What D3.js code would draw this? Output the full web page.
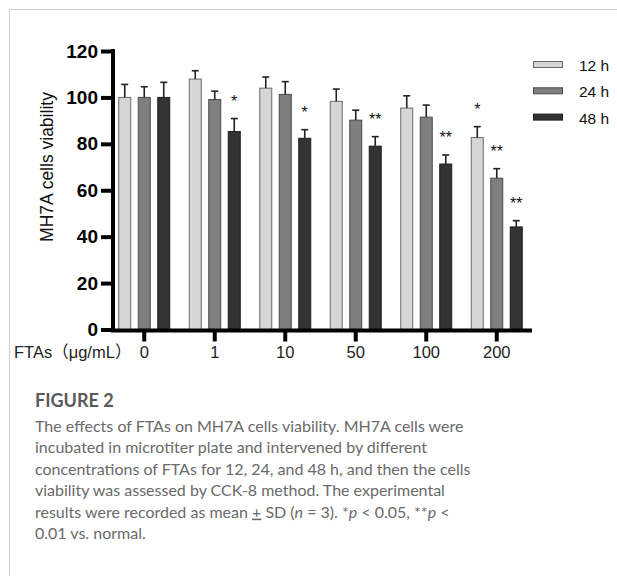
<!DOCTYPE html>
<html>
<head>
<meta charset="utf-8">
<script src="https://cdn.jsdelivr.net/npm/d3@7"></script>
<style>
  html, body { margin: 0; padding: 0; background: #fff; }
  svg { display: block; }
</style>
</head>
<body>
<svg id="chart" width="617" height="576"></svg>
<script>
// chart data
const doses = ["0", "1", "10", "50", "100", "200"];
const times = ["12 h", "24 h", "48 h"];
const mean12 = [100, 107.9, 104, 98.3, 95.4, 82.7];
const mean24 = [100, 99.1, 101.3, 90.2, 91.5, 65.2];
const mean48 = [100, 85.3, 82.4, 79.0, 71.3, 44.2];
const sd12 = [5.6, 3.6, 4.8, 5.3, 5.3, 4.7];
const sd24 = [4.6, 3.6, 5.5, 4.3, 5.2, 4.1];
const sd48 = [6.5, 5.6, 3.7, 4.1, 3.9, 2.7];
const sig12 = ["", "", "", "", "", "*"];
const sig24 = ["", "", "", "", "", "**"];
const sig48 = ["", "*", "*", "**", "**", "**"];
const yTicks = [0, 20, 40, 60, 80, 100, 120];
const captionLines = [
  "The effects of FTAs on MH7A cells viability. MH7A cells were",
  "incubated in microtiter plate and intervened by different",
  "concentrations of FTAs for 12, 24, and 48 h, and then the cells",
  "viability was assessed by CCK-8 method. The experimental"
];

const means = [mean12, mean24, mean48];
const sds = [sd12, sd24, sd48];
const sigs = [sig12, sig24, sig48];

const rows = [];
doses.forEach((d, i) => {
  times.forEach((t, j) => {
    rows.push({ dose: d, time: t, mean: means[j][i], sd: sds[j][i], sig: sigs[j][i] });
  });
});

const svg = d3.select("#chart");

// page frame
svg.append("line").attr("x1", 9.5).attr("x2", 9.5).attr("y1", 9.5).attr("y2", 576)
  .attr("stroke", "#d0d0d0").attr("stroke-width", 1);
svg.append("line").attr("x1", 9.5).attr("x2", 617).attr("y1", 9.5).attr("y2", 9.5)
  .attr("stroke", "#d0d0d0").attr("stroke-width", 1);

const x0 = d3.scaleBand().domain(doses).range([109, 532]).padding(0);
const x1 = d3.scaleBand().domain(times).range([-26, 26]).paddingInner(0.333);
const y = d3.scaleLinear().domain([0, 120]).range([329.5, 51]);

const fill = d3.scaleOrdinal().domain(times).range(["#d6d6d6", "#7f7f7f", "#333333"]);
const edge = d3.scaleOrdinal().domain(times).range(["#6a6a6a", "#4a4a4a", "#1e1e1e"]);

const g = svg.append("g");

// bars
const groups = g.selectAll("g.grp")
  .data(rows)
  .join("g")
  .attr("class", "grp")
  .attr("transform", d => `translate(${x0(d.dose) + x0.bandwidth() / 2 + x1(d.time)},0)`);

groups.append("rect")
  .attr("x", 0.5)
  .attr("width", x1.bandwidth() - 1)
  .attr("y", d => y(d.mean))
  .attr("height", d => y(0) - y(d.mean))
  .attr("fill", d => fill(d.time))
  .attr("stroke", d => edge(d.time))
  .attr("stroke-width", 1);

// error bars (upper only)
const cx = x1.bandwidth() / 2;
groups.append("line")
  .attr("x1", cx).attr("x2", cx)
  .attr("y1", d => y(d.mean))
  .attr("y2", d => y(d.mean + d.sd))
  .attr("stroke", "#222").attr("stroke-width", 1.6);
groups.append("line")
  .attr("x1", cx - 3.5).attr("x2", cx + 3.5)
  .attr("y1", d => y(d.mean + d.sd))
  .attr("y2", d => y(d.mean + d.sd))
  .attr("stroke", "#222").attr("stroke-width", 1.6);

// significance marks
groups.filter(d => d.sig)
  .append("text")
  .attr("x", cx)
  .attr("y", d => y(d.mean + d.sd) - 11.5)
  .attr("text-anchor", "middle")
  .attr("font-family", "Liberation Sans, Arial, sans-serif")
  .attr("font-size", 16)
  .attr("fill", "#111")
  .text(d => d.sig);

// y axis
const yAxis = g.append("g")
  .attr("transform", "translate(113,0)")
  .call(d3.axisLeft(y).tickValues(yTicks).tickSize(12).tickPadding(3));
yAxis.select(".domain").attr("stroke", "#000").attr("stroke-width", 4)
  .attr("d", `M0,${y(120) - 2}V${y(0) + 2}`);
yAxis.selectAll(".tick line").attr("stroke", "#000").attr("stroke-width", 4);
yAxis.selectAll(".tick text")
  .attr("font-family", "Liberation Sans, Arial, sans-serif")
  .attr("font-size", 19).attr("font-weight", "bold").attr("fill", "#000");

// x axis
const xAxis = g.append("g")
  .attr("transform", `translate(0,${y(0) + 1})`)
  .call(d3.axisBottom(x0).tickSize(11).tickPadding(5));
xAxis.select(".domain").attr("stroke", "#000").attr("stroke-width", 4)
  .attr("d", `M111,0H532`);
xAxis.selectAll(".tick line").attr("stroke", "#000").attr("stroke-width", 4);
xAxis.selectAll(".tick text")
  .attr("font-family", "Liberation Sans, Arial, sans-serif")
  .attr("font-size", 16.5).attr("fill", "#222");

// x axis name
svg.append("text")
  .attr("x", 14).attr("y", 357.5)
  .attr("font-family", "Liberation Sans, Arial, 'Noto Sans CJK SC', sans-serif")
  .attr("font-size", 16.5).attr("fill", "#222")
  .text("FTAs（μg/mL）");

// y axis title
svg.append("text")
  .attr("transform", "translate(52.5,167) rotate(-90)")
  .attr("text-anchor", "middle")
  .attr("font-family", "Liberation Sans, Arial, sans-serif")
  .attr("font-size", 17.5).attr("fill", "#111")
  .text("MH7A cells viability");

// legend
const legend = svg.append("g").selectAll("g")
  .data(times)
  .join("g")
  .attr("transform", (d, i) => `translate(533,${61 + i * 26.3})`);
legend.append("rect")
  .attr("x", 0.5).attr("y", 0.5).attr("width", 29).attr("height", 6)
  .attr("fill", d => fill(d)).attr("stroke", d => edge(d));
legend.append("text")
  .attr("x", 46).attr("y", 10)
  .attr("font-family", "Liberation Sans, Arial, sans-serif")
  .attr("font-size", 15.5).attr("fill", "#111")
  .text(d => d);

// caption
const cap = svg.append("g").attr("font-family", "Lato, 'Open Sans', sans-serif").attr("fill", "#6a6a6a");
cap.append("text").attr("x", 35).attr("y", 407)
  .attr("font-size", 18).attr("font-weight", "bold").attr("fill", "#5a5a5a")
  .text("FIGURE 2");
const lh = 21.4;
captionLines.forEach((s, i) => {
  cap.append("text").attr("x", 35).attr("y", 432 + i * lh)
    .attr("font-size", 16).text(s);
});
const l5 = cap.append("text").attr("x", 35).attr("y", 432 + 4 * lh).attr("font-size", 16);
l5.append("tspan").text("results were recorded as mean ");
l5.append("tspan").attr("text-decoration", "underline").text("+");
l5.append("tspan").text(" SD (");
l5.append("tspan").attr("font-style", "italic").text("n");
l5.append("tspan").text(" = 3). *");
l5.append("tspan").attr("font-style", "italic").text("p");
l5.append("tspan").text(" < 0.05, **");
l5.append("tspan").attr("font-style", "italic").text("p");
l5.append("tspan").text(" <");
cap.append("text").attr("x", 35).attr("y", 432 + 5 * lh).attr("font-size", 16)
  .text("0.01 vs. normal.");
</script>
</body>
</html>
